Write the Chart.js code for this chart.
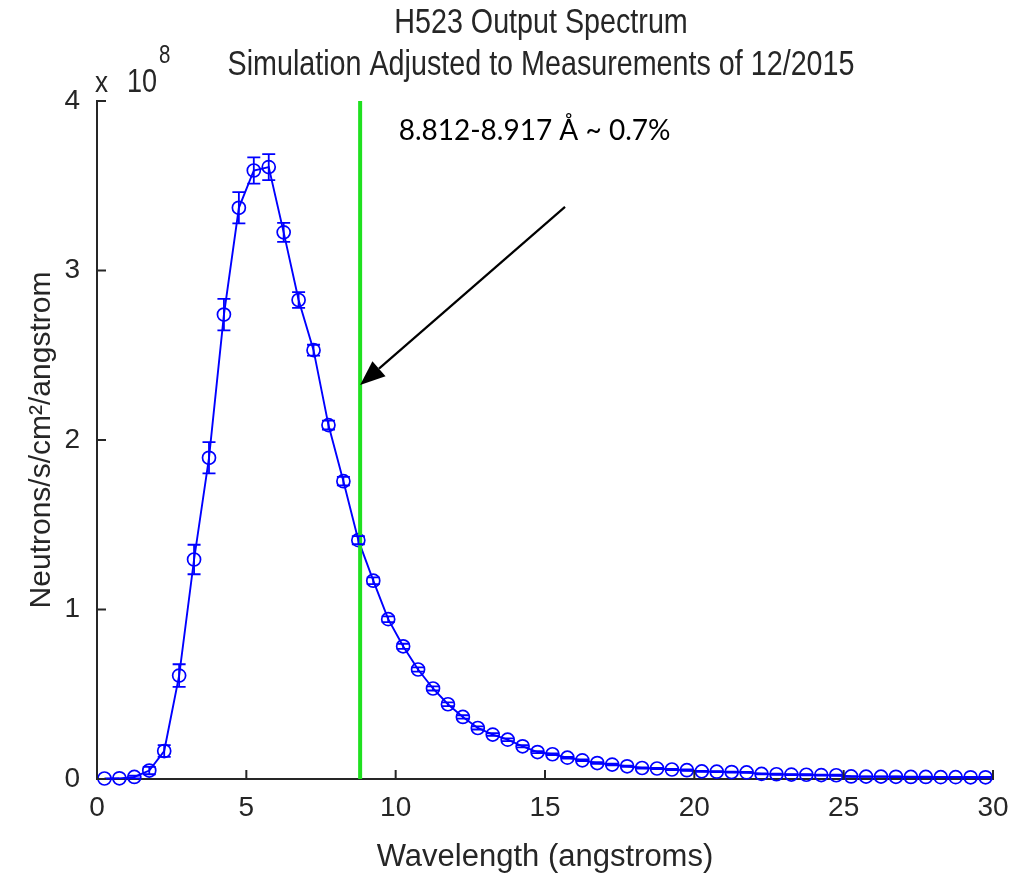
<!DOCTYPE html>
<html>
<head>
<meta charset="utf-8">
<script src="https://cdn.jsdelivr.net/npm/chart.js@4"></script>
<style>
  html, body { margin: 0; padding: 0; background: #fff; }
  #wrap { width: 1017px; height: 875px; }
</style>
</head>
<body>
<div id="wrap"><canvas id="myChart" width="1017" height="875"></canvas></div>
<script>

// wavelength bin centres (angstroms)
var wavelength = [0.25, 0.75, 1.25, 1.75, 2.25, 2.75, 3.25, 3.75, 4.25, 4.75,
  5.25, 5.75, 6.25, 6.75, 7.25, 7.75, 8.25, 8.75, 9.25, 9.75,
  10.25, 10.75, 11.25, 11.75, 12.25, 12.75, 13.25, 13.75, 14.25, 14.75,
  15.25, 15.75, 16.25, 16.75, 17.25, 17.75, 18.25, 18.75, 19.25, 19.75,
  20.25, 20.75, 21.25, 21.75, 22.25, 22.75, 23.25, 23.75, 24.25, 24.75,
  25.25, 25.75, 26.25, 26.75, 27.25, 27.75, 28.25, 28.75, 29.25, 29.75];

// neutrons/s/cm^2/angstrom, in units of 1e8
var flux = [0.003, 0.004, 0.012, 0.05, 0.165, 0.61, 1.295, 1.895, 2.74, 3.37,
  3.59, 3.61, 3.225, 2.826, 2.53, 2.088, 1.757, 1.409, 1.17, 0.943,
  0.783, 0.646, 0.534, 0.441, 0.366, 0.301, 0.262, 0.232, 0.193, 0.159,
  0.146, 0.126, 0.110, 0.094, 0.085, 0.075, 0.065, 0.062, 0.056, 0.052,
  0.045, 0.043, 0.041, 0.039, 0.030, 0.028, 0.026, 0.025, 0.023, 0.022,
  0.015, 0.014, 0.014, 0.013, 0.012, 0.012, 0.011, 0.011, 0.010, 0.010];

// +/- uncertainty, same units
var fluxErr = [0, 0, 0.008, 0.022, 0.035, 0.067, 0.087, 0.092, 0.093, 0.092,
  0.077, 0.077, 0.056, 0.047, 0.032, 0.026, 0.025, 0.024, 0.020, 0.017,
  0.015, 0.013, 0.012, 0.011, 0.010, 0.009, 0.008, 0.008, 0.007, 0.006,
  0.005, 0.005, 0.005, 0.005, 0.005, 0.004, 0.004, 0.004, 0.004, 0.004,
  0.003, 0.003, 0.003, 0.003, 0.003, 0.003, 0.003, 0.003, 0.003, 0.003,
  0.002, 0.002, 0.002, 0.002, 0.002, 0.002, 0.002, 0.002, 0.002, 0.002];

var xTicks = [0, 5, 10, 15, 20, 25, 30];
var yTicks = [0, 1, 2, 3, 4];

// selected band marker and the arrow pointing at it
var bandX = 8.81;
var bandLabel = '8.812-8.917 \u00C5 ~ 0.7%';
var arrowFrom = { x: 15.67, y: 3.375 };
var arrowTo = { x: 8.81, y: 2.324 };
var labelAt = { x: 10.1, y: 3.82 };

var titleLines = ['H523 Output Spectrum', 'Simulation Adjusted to Measurements of 12/2015'];

var FONT = '"Liberation Sans", Arial, sans-serif';
var INK = '#262626';

var points = wavelength.map(function (w, i) {
  return { x: w, y: flux[i] };
});
var bandLine = [{ x: bandX, y: 0 }, { x: bandX, y: 4 }];

// text squeezed sideways to get the narrow helvetica look
function narrowText(c, text, x, y, size, squeeze) {
  c.save();
  c.translate(x, y);
  c.scale(squeeze, 1);
  c.font = size + 'px ' + FONT;
  c.fillText(text, 0, 0);
  var w = c.measureText(text).width * squeeze;
  c.restore();
  return w;
}

var extras = {
  id: 'extras',
  afterDatasetsDraw: function (chart) {
    var c = chart.ctx, sx = chart.scales.x, sy = chart.scales.y;
    c.save();
    c.strokeStyle = '#0000ff';
    c.lineWidth = 1.8;
    points.forEach(function (p, i) {
      if (!fluxErr[i]) return;
      var px = sx.getPixelForValue(p.x);
      var lo = sy.getPixelForValue(p.y - fluxErr[i]);
      var hi = sy.getPixelForValue(p.y + fluxErr[i]);
      c.beginPath();
      c.moveTo(px, lo); c.lineTo(px, hi);
      c.moveTo(px - 6.5, lo); c.lineTo(px + 6.5, lo);
      c.moveTo(px - 6.5, hi); c.lineTo(px + 6.5, hi);
      c.stroke();
    });
    c.restore();
  },
  afterDraw: function (chart) {
    var c = chart.ctx, sx = chart.scales.x, sy = chart.scales.y, a = chart.chartArea;
    c.save();

    // inward ticks, matlab style
    c.strokeStyle = INK;
    c.lineWidth = 2;
    c.beginPath();
    xTicks.forEach(function (t) {
      var px = sx.getPixelForValue(t);
      c.moveTo(px, a.bottom); c.lineTo(px, a.bottom - 9);
    });
    yTicks.forEach(function (t) {
      var py = sy.getPixelForValue(t);
      c.moveTo(a.left, py); c.lineTo(a.left + 9, py);
    });
    c.stroke();

    // two line title
    c.fillStyle = INK;
    c.textAlign = 'center';
    c.textBaseline = 'alphabetic';
    narrowText(c, titleLines[0], 541, 33, 35, 0.82);
    narrowText(c, titleLines[1], 541, 75, 35, 0.82);

    // x 10^8 multiplier
    c.textAlign = 'left';
    narrowText(c, 'x', 95, 92, 29, 0.9);
    var w = narrowText(c, '10', 127, 92, 33, 0.82);
    narrowText(c, '8', 127 + w + 2, 63, 25, 0.82);

    // arrow
    var x1 = sx.getPixelForValue(arrowFrom.x), y1 = sy.getPixelForValue(arrowFrom.y);
    var x2 = sx.getPixelForValue(arrowTo.x), y2 = sy.getPixelForValue(arrowTo.y);
    var ang = Math.atan2(y2 - y1, x2 - x1);
    var head = 25, half = 10;
    var bx = x2 - head * Math.cos(ang), by = y2 - head * Math.sin(ang);
    c.strokeStyle = '#000';
    c.fillStyle = '#000';
    c.lineWidth = 2.2;
    c.beginPath();
    c.moveTo(x1, y1); c.lineTo(bx, by);
    c.stroke();
    c.beginPath();
    c.moveTo(x2, y2);
    c.lineTo(bx + half * Math.sin(ang), by - half * Math.cos(ang));
    c.lineTo(bx - half * Math.sin(ang), by + half * Math.cos(ang));
    c.closePath();
    c.fill();

    // band annotation
    c.font = '28px Lato, "Open Sans", sans-serif';
    c.fillStyle = '#000';
    c.textBaseline = 'alphabetic';
    c.fillText(bandLabel, sx.getPixelForValue(labelAt.x), 140);

    c.restore();
  }
};

var ctx = document.getElementById('myChart');
var myChart = new Chart(ctx, {
  type: 'scatter',
  data: {
    datasets: [{
      label: 'Band',
      data: bandLine,
      showLine: true,
      borderColor: '#1fe01f',
      borderWidth: 4,
      pointRadius: 0
    }, {
      label: 'Flux',
      data: points,
      showLine: true,
      borderColor: '#0000ff',
      borderWidth: 1.9,
      pointRadius: 6.5,
      pointBorderWidth: 1.7,
      pointBorderColor: '#0000ff',
      pointBackgroundColor: 'rgba(0,0,0,0)',
      clip: false
    }]
  },
  options: {
    responsive: false,
    animation: false,
    devicePixelRatio: 1,
    layout: { padding: { left: 0, right: 24, top: 101, bottom: 0 } },
    plugins: {
      legend: { display: false },
      tooltip: { enabled: false }
    },
    scales: {
      x: {
        type: 'linear',
        min: 0,
        max: 30,
        afterBuildTicks: function (scale) {
          scale.ticks = xTicks.map(function (v) { return { value: v }; });
        },
        ticks: { font: { size: 28, family: FONT }, color: INK, padding: 4, maxRotation: 0 },
        grid: { display: false },
        border: { display: true, color: INK, width: 2 },
        title: {
          display: true,
          text: 'Wavelength (angstroms)',
          color: INK,
          font: { size: 31, family: FONT, lineHeight: 1 },
          padding: { top: 0, bottom: 2 }
        },
        afterFit: function (scale) { scale.height = 96; }
      },
      y: {
        type: 'linear',
        min: 0,
        max: 4,
        afterBuildTicks: function (scale) {
          scale.ticks = yTicks.map(function (v) { return { value: v }; });
        },
        ticks: { font: { size: 28, family: FONT }, color: INK, padding: 9 },
        grid: { display: false },
        border: { display: true, color: INK, width: 2 },
        title: {
          display: true,
          text: 'Neutrons/s/cm\u00B2/angstrom',
          color: INK,
          font: { size: 30, family: FONT, lineHeight: 1 },
          padding: { top: 27, bottom: 0 }
        },
        afterFit: function (scale) { scale.width = 97; }
      }
    }
  },
  plugins: [extras]
});
</script>
</body>
</html>
